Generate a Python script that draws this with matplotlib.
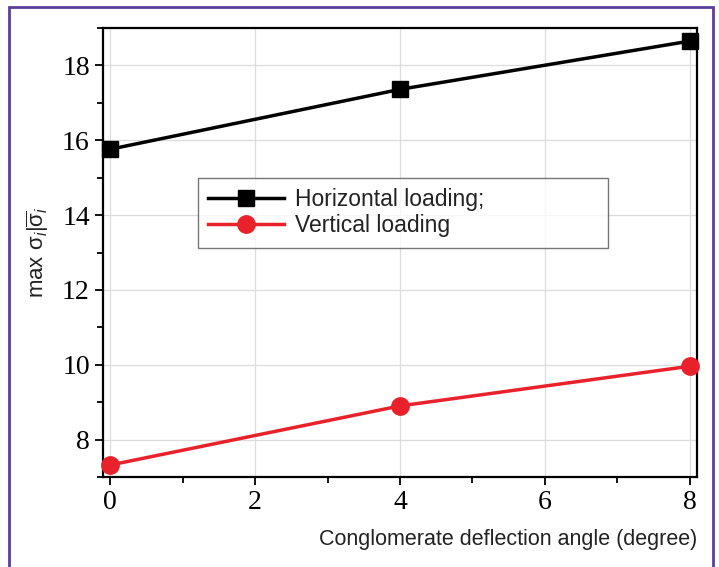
import matplotlib
matplotlib.use("Agg")
import matplotlib.pyplot as plt
from matplotlib.patches import Rectangle
from matplotlib.ticker import MultipleLocator

angle = [0, 4, 8]
horizontal = [15.76, 17.36, 18.65]
vertical = [7.32, 8.90, 9.96]

plt.rcParams['mathtext.fontset'] = 'custom'
plt.rcParams['mathtext.rm'] = 'Liberation Sans'
plt.rcParams['mathtext.it'] = 'Liberation Sans:italic'
plt.rcParams['mathtext.default'] = 'regular'

fig = plt.figure(figsize=(7.19, 5.67), dpi=100)
ax = fig.add_axes([103/719, 90/567, 594/719, 449/567])

ax.plot(angle, horizontal, color='black', lw=2.5, marker='s', ms=11.5,
        label='Horizontal loading;', clip_on=False, zorder=3)
ax.plot(angle, vertical, color='#e8212a', lw=2.5, marker='o', ms=12.5,
        label='Vertical loading', clip_on=False, zorder=3)

ax.set_xlim(-0.1, 8.1)
ax.set_ylim(7, 19)
ax.xaxis.set_major_locator(MultipleLocator(2))
ax.xaxis.set_minor_locator(MultipleLocator(1))
ax.yaxis.set_major_locator(MultipleLocator(2))
ax.yaxis.set_minor_locator(MultipleLocator(1))
ax.grid(True, which='major', color='#dcdcdc', lw=0.9)
ax.set_axisbelow(True)

ax.tick_params(which='both', direction='out', width=1.3, labelsize=20)
ax.tick_params(which='major', length=6)
ax.tick_params(which='minor', length=4)
ax.tick_params(top=False, right=False)
for lab in ax.get_xticklabels() + ax.get_yticklabels():
    lab.set_family('Liberation Serif')
for s in ax.spines.values():
    s.set_linewidth(1.6)

ax.set_xlabel('Conglomerate deflection angle (degree)', family='Liberation Sans',
              fontsize=15.5, color='#222222', loc='right', labelpad=10)
ax.set_ylabel(r'max $\sigma_{\mathit{i}}|\overline{\sigma}_{\mathit{i}}$',
              family='Liberation Sans', fontsize=16, color='#222222', labelpad=8)

leg = ax.legend(loc='upper left', bbox_to_anchor=(0.16, 0.517, 0.69, 0.15),
                mode='expand', fontsize=16.5,
                frameon=True, fancybox=False, edgecolor='#555555', borderpad=0.45,
                borderaxespad=0, handlelength=3.3, handletextpad=0.5,
                labelspacing=0.15)
leg.get_frame().set_linewidth(1.0)
for t in leg.get_texts():
    t.set_family('Liberation Sans')
    t.set_color('#222222')

fig.patches.append(Rectangle((9/719, -0.05), 704/719, 1.05 - 7/567,
                             transform=fig.transFigure, fill=False,
                             edgecolor='#5b3f9a', lw=2))

fig.savefig('out.png', dpi=100)
